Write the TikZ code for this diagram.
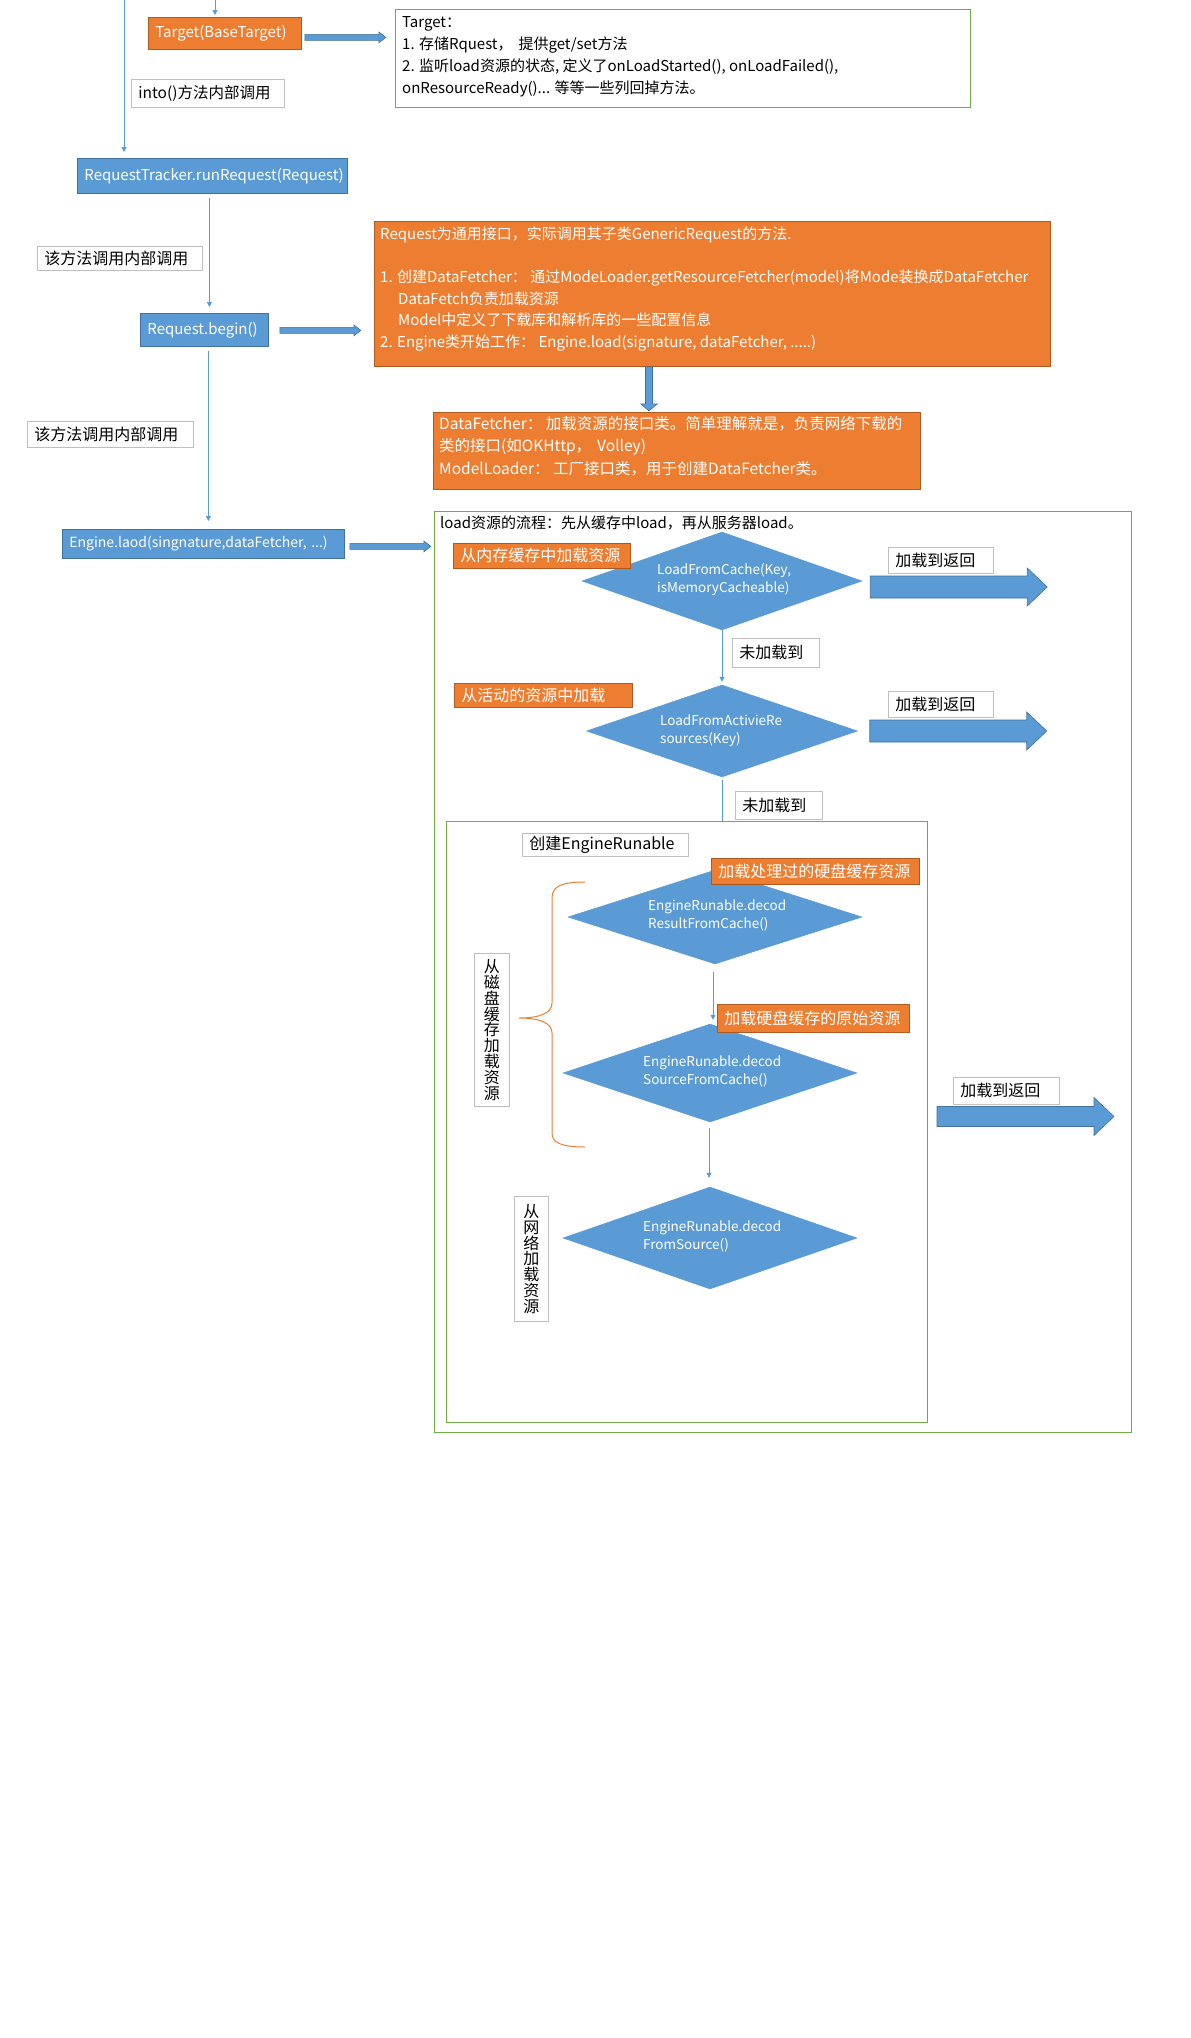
\documentclass[tikz,border=0pt]{standalone}
\usepackage{fontspec}
\setmainfont{Noto Sans CJK SC}
\usetikzlibrary{calc,shapes.geometric,arrows.meta}
\definecolor{ofill}{HTML}{ED7D31}
\definecolor{oedge}{HTML}{AE5A21}
\definecolor{bfill}{HTML}{5B9BD5}
\definecolor{bedge}{HTML}{41719C}
\definecolor{gedge}{HTML}{70AD47}
\definecolor{ledge}{HTML}{BFBFBF}
\definecolor{tline}{HTML}{5B9BD5}
% box with left-aligned text: name, style, x, y, w, h, text
\newcommand\bx[7]{%
  \pgfmathsetmacro\bxtw{#5-14}%
  \node[anchor=north west, minimum width=#5, minimum height=#6, text width=\bxtw pt,
        inner xsep=7pt, inner ysep=0pt, align=left, #2] (#1) at (#3,#4) {#7};}
% fat arrow to the right: start, length, shaft half, head half, head length
\newcommand\fatR[5]{\filldraw[fat] (#1) ++(0,-#3) -- ++({#2-#5},0) -- ++(0,{#3-#4})
  -- ++(#5,#4) -- ++(-#5,#4) -- ++(0,{#3-#4}) -- ++({#5-#2},0) -- cycle;}
% fat arrow downwards
\newcommand\fatD[5]{\filldraw[fat] (#1) ++(-#3,0) -- ++(0,{#2-#5}) -- ++({#3-#4},0)
  -- ++(#4,#5) -- ++(#4,-#5) -- ++({#3-#4},0) -- ++(0,{#5-#2}) -- cycle;}
\begin{document}
\begin{tikzpicture}[x=1pt,y=-1pt,
  every node/.style={font=\fontsize{15}{22}\selectfont, inner sep=0pt},
  bbox/.style={fill=bfill, draw=bedge, line width=0.8pt, text=white, font=\fontsize{15}{20}\selectfont},
  obox/.style={fill=ofill, draw=oedge, line width=0.8pt, text=white, font=\fontsize{16}{20}\selectfont},
  obig/.style={fill=ofill, draw=oedge, line width=0.8pt},
  lbox/.style={fill=white, draw=ledge, line width=0.8pt, text=black, font=\fontsize{16}{20}\selectfont},
  gbox/.style={draw=gedge, line width=1pt},
  vtxt/.style={align=center, font=\fontsize{16}{15.8}\selectfont},
  wtxt/.style={align=left, text=white, font=\fontsize{15}{21.6}\selectfont},
  thinarr/.style={draw=tline, line width=0.9pt, -{Triangle[length=5pt,width=5pt]}},
  thinln/.style={draw=tline, line width=0.9pt},
  fat/.style={fill=bfill, draw=bedge, line width=0.6pt},
  dia/.style={diamond, fill=bfill, draw=bfill, line width=0.5pt},
  dtxt/.style={align=left, text=white, font=\fontsize{13.5}{18}\selectfont},
  bracestyle/.style={draw=ofill, line width=1pt}
]
\fill[white] (0,0) rectangle (1191,2038);
\useasboundingbox (0,0) rectangle (1191,2038);

% ---------- top part ----------
\bx{tb}{obox, font=\fontsize{15}{20}\selectfont}{148}{17}{153}{32}{Target(BaseTarget)}
\draw[thinarr] (215,0) coordinate (t0) -- ($(t0 |- tb.north)+(0,-2)$);
\draw[thinarr] (124,0) coordinate (l0) -- ($(l0 |- tb.north)+(0,135)$);
\bx{into}{lbox, font=\fontsize{15.5}{20}\selectfont}{131}{79}{153}{28}{into()方法内部调用}

\node[gbox, anchor=north west, minimum width=575, minimum height=98] (tg) at (395,9) {};
\node[anchor=west, align=left] (tgt) at (402,56.5) {Target：\\1. 存储Rquest，\hspace{6pt}提供get/set方法\\2. 监听load资源的状态, 定义了onLoadStarted(), onLoadFailed(),\\onResourceReady()... 等等一些列回掉方法。};
\fatR{$(tb.east)+(3,4)$}{81}{3}{5.5}{7}

\bx{rt}{bbox}{77}{158}{270}{35}{RequestTracker.runRequest(Request)}
\bx{lab1}{lbox}{37}{246}{165}{24}{该方法调用内部调用}
\bx{rb}{bbox}{140}{313}{128}{33}{Request.begin()}
\draw[thinarr] ($(rt.south)+(-3,4)$) coordinate (c1) -- ($(c1 |- rb.north)+(0,-6)$);
\fatR{$(rb.east)+(11,0.5)$}{81}{3}{5.5}{7}

\node[obig, anchor=north west, minimum width=676, minimum height=145] (rq) at (374,221) {};
\node[wtxt, anchor=west] (rqt) at (380,289) {Request为通用接口，实际调用其子类GenericRequest的方法.\\[21.6pt]1. 创建DataFetcher： 通过ModeLoader.getResourceFetcher(model)将Mode装换成DataFetcher\\\hspace{18pt}DataFetch负责加载资源\\\hspace{18pt}Model中定义了下载库和解析库的一些配置信息\\2. Engine类开始工作： Engine.load(signature, dataFetcher, .....)};

\node[obig, anchor=north west, minimum width=487, minimum height=77] (df) at (433,412) {};
\node[wtxt, anchor=west, font=\fontsize{15.5}{22.5}\selectfont] (dft) at (439,446) {DataFetcher： 加载资源的接口类。简单理解就是，负责网络下载的\\类的接口(如OKHttp，\hspace{6pt}Volley)\\ModelLoader： 工厂接口类，用于创建DataFetcher类。};
\fatD{$(rq.south west)+(275,0)$}{44}{3.5}{8.5}{7}

\bx{lab2}{lbox}{27}{421}{166}{26}{该方法调用内部调用}
\bx{el}{bbox, font=\fontsize{14}{18}\selectfont}{62}{529}{282}{29}{\mbox{Engine.laod(singnature,dataFetcher, ...)}}
\draw[thinarr] ($(rb.south)+(4,4)$) coordinate (c2) -- ($(c2 |- el.north)+(0,-8)$);
\fatR{$(el.east)+(5,2.5)$}{81}{3}{5.5}{7}

% ---------- load flow ----------
\node[gbox, anchor=north west, minimum width=697, minimum height=921] (og) at (434,511) {};
\node[anchor=west] (title) at (440,523) {load资源的流程：先从缓存中load，再从服务器load。};

\node[dia, minimum width=280, minimum height=98] (d1) at (722,581) {};
\node[dtxt, anchor=west] (d1t) at (657,580) {LoadFromCache(Key,\\isMemoryCacheable)};
\bx{o1}{obox}{453}{543}{177}{25}{从内存缓存中加载资源}
\bx{r1}{lbox}{888}{547}{105}{26}{加载到返回}
\fatR{$(d1.east)+(8,6)$}{177}{11}{19}{20}

\node[dia, minimum width=271, minimum height=92] (d2) at (722,731) {};
\node[dtxt, anchor=west] (d2t) at (660,731) {LoadFromActivieRe\\sources(Key)};
\draw[thinarr] (d1.south) -- ($(d2.north)+(0,-3)$);
\bx{n1}{lbox}{732}{638}{87}{29}{未加载到}
\bx{o2}{obox}{454}{683}{178}{24}{从活动的资源中加载}
\bx{r2}{lbox}{888}{691}{105}{26}{加载到返回}
\fatR{$(d2.east)+(12,0)$}{177}{11}{19}{20}

\node[gbox, anchor=north west, minimum width=481, minimum height=601] (ig) at (446,821) {};
\draw[thinln] ($(d2.south)+(0,3)$) -- (d2.south |- ig.north);
\bx{n2}{lbox}{735}{791}{87}{28}{未加载到}
\bx{cer}{lbox}{522}{833}{166}{23}{创建EngineRunable}

\node[dia, minimum width=294, minimum height=94] (d3) at (715,917) {};
\node[dtxt, anchor=west] (d3t) at (648,915) {EngineRunable.decod\\ResultFromCache()};
\node[dia, minimum width=294, minimum height=98] (d4) at (710,1073) {};
\node[dtxt, anchor=west] (d4t) at (643,1071) {EngineRunable.decod\\SourceFromCache()};
\node[dia, minimum width=294, minimum height=102] (d5) at (710,1238) {};
\node[dtxt, anchor=west] (d5t) at (643,1236) {EngineRunable.decod\\FromSource()};
\draw[thinarr] ($(d3.south)+(-2,8)$) coordinate (c3) -- ($(c3 |- d4.north)+(0,-4)$);
\draw[thinarr] ($(d4.south)+(-1,6)$) coordinate (c4) -- ($(c4 |- d5.north)+(0,-9)$);
\bx{o3}{obox}{711}{858}{208}{26}{加载处理过的硬盘缓存资源}
\bx{o4}{obox}{717}{1004}{192}{28}{加载硬盘缓存的原始资源}

\draw[bracestyle] (585,882) .. controls (562,882) and (552,886) .. (552,898) -- (552,1003)
  .. controls (552,1013) and (540,1018) .. (519,1018)
  .. controls (540,1018) and (552,1023) .. (552,1033) -- (552,1133)
  .. controls (552,1143) and (562,1147) .. (585,1147);
\bx{vb1}{lbox, vtxt}{474}{953}{35}{153}{从\\磁\\盘\\缓\\存\\加\\载\\资\\源}
\bx{vb2}{lbox, vtxt}{514}{1196}{34}{125}{从\\网\\络\\加\\载\\资\\源}

\bx{r3}{lbox}{953}{1077}{106}{27}{加载到返回}
\fatR{$(ig.east)+(9,-5.5)$}{177}{10}{19}{20}
\end{tikzpicture}
\end{document}
